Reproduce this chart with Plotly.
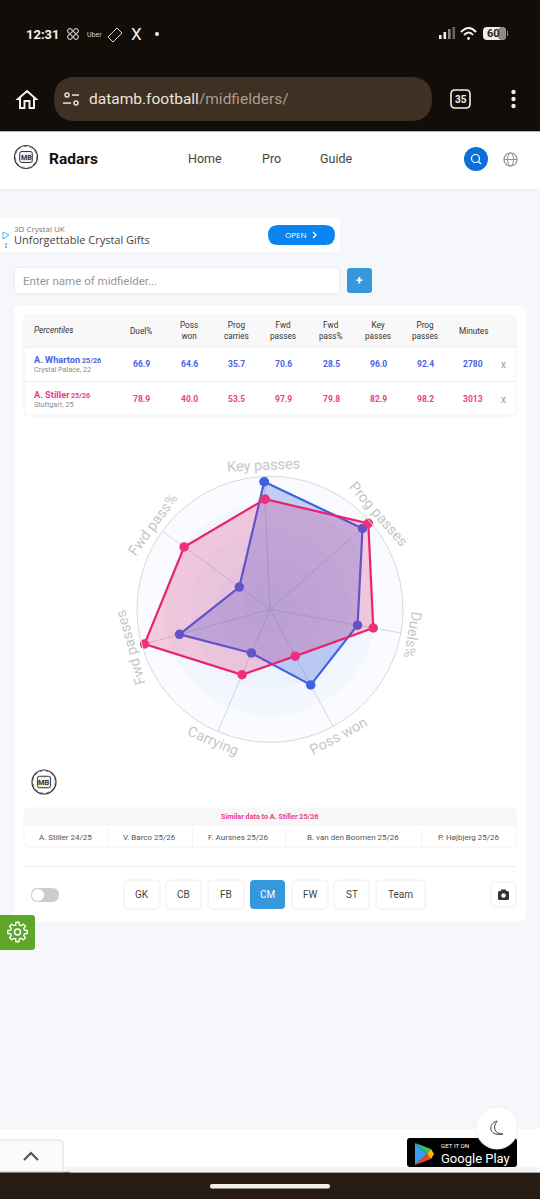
import math
import plotly.graph_objects as go

W, H = 540, 1199

# Radar data (percentiles), clockwise from the top spoke
axis_labels = ["Key passes", "Prog passes", "Duels%", "Poss won", "Carrying", "Fwd passes", "Fwd pass%"]
wharton_vals = [96.0, 92.4, 66.9, 64.6, 35.7, 70.6, 28.5]
stiller_vals = [82.9, 98.2, 78.9, 40.0, 53.5, 97.9, 79.8]
ring_levels = [100, 80, 60, 40, 20]

# Table
table_head = ["Duel%", "Poss<br>won", "Prog<br>carries", "Fwd<br>passes", "Fwd<br>pass%", "Key<br>passes", "Prog<br>passes", "Minutes"]
table_wharton = ["66.9", "64.6", "35.7", "70.6", "28.5", "96.0", "92.4", "2780"]
table_stiller = ["78.9", "40.0", "53.5", "97.9", "79.8", "82.9", "98.2", "3013"]
table_cols = [141, 189, 236, 283, 331, 378, 425, 473]

similar_names = ["A. Stiller 24/25", "V. Barco 25/26", "F. Aursnes 25/26", "B. van den Boomen 25/26", "P. Højbjerg 25/26"]
similar_cols = [65.5, 149, 238, 353, 469]
pos_buttons = ["GK", "CB", "FB", "CM", "FW", "ST", "Team"]
pos_edges = [(124, 160), (166, 201), (208, 244), (250, 285), (292, 328), (334, 369), (376, 425)]

BLUE = "#3f62e3"
PINK = "#e9236f"
BLUE_TXT = "#4a63e0"
PINK_TXT = "#e83e8c"
BG = "#f5f7fa"
DARK = "#120d09"

# Centre et rayon du radar, en pixels de page
CX, CY, R = 270, 609.3, 133
ROT = -2.6


def X(x):
    return x / W


def Y(y):
    return 1 - y / H


shapes = []
annots = []


def rrect(x0, y0, x1, y1, r, fill, line=None, lw=1):
    p = (f"M {X(x0 + r)} {Y(y0)} L {X(x1 - r)} {Y(y0)} Q {X(x1)} {Y(y0)} {X(x1)} {Y(y0 + r)} "
         f"L {X(x1)} {Y(y1 - r)} Q {X(x1)} {Y(y1)} {X(x1 - r)} {Y(y1)} "
         f"L {X(x0 + r)} {Y(y1)} Q {X(x0)} {Y(y1)} {X(x0)} {Y(y1 - r)} "
         f"L {X(x0)} {Y(y0 + r)} Q {X(x0)} {Y(y0)} {X(x0 + r)} {Y(y0)} Z")
    shapes.append(dict(type="path", path=p, xref="paper", yref="paper", layer="below",
                       fillcolor=fill, line=dict(color=line or "rgba(0,0,0,0)", width=lw if line else 0)))


def rect(x0, y0, x1, y1, fill):
    shapes.append(dict(type="rect", xref="paper", yref="paper", layer="below", x0=X(x0), x1=X(x1),
                       y0=Y(y1), y1=Y(y0), fillcolor=fill, line=dict(width=0)))


def circle(cx, cy, r, fill="rgba(0,0,0,0)", line=None, lw=1, dash=None):
    shapes.append(dict(type="circle", xref="paper", yref="paper", layer="below", x0=X(cx - r), x1=X(cx + r),
                       y0=Y(cy + r), y1=Y(cy - r), fillcolor=fill,
                       line=dict(color=line or "rgba(0,0,0,0)", width=lw if line else 0, dash=dash)))


def poly(points, fill="rgba(0,0,0,0)", line=None, lw=1, close=True):
    p = "M " + " L ".join(f"{X(a)} {Y(b)}" for a, b in points) + (" Z" if close else "")
    shapes.append(dict(type="path", path=p, xref="paper", yref="paper", layer="below", fillcolor=fill,
                       line=dict(color=line or "rgba(0,0,0,0)", width=lw if line else 0)))


def curve(p, line, lw=1.5, fill="rgba(0,0,0,0)"):
    # p = suite de commandes avec coordonnées en pixels
    out = []
    for tok in p:
        if isinstance(tok, str):
            out.append(tok)
        else:
            out.append(f"{X(tok[0])} {Y(tok[1])}")
    shapes.append(dict(type="path", path=" ".join(out), xref="paper", yref="paper", layer="below",
                       fillcolor=fill, line=dict(color=line, width=lw)))


def txt(x, y, s, size, color, anchor="center", angle=0, family="Roboto"):
    annots.append(dict(x=X(x), y=Y(y), xref="paper", yref="paper", text=s, showarrow=False, xanchor=anchor,
                       yanchor="middle", textangle=angle, borderpad=0, borderwidth=0,
                       font=dict(size=size, color=color, family=family)))


def logo(cx, cy, r):
    circle(cx, cy, r, fill="white", line="#333333", lw=1.2)
    circle(cx, cy, r * 0.93, line="#777777", lw=1, dash="dot")
    rrect(cx - r * 0.55, cy - r * 0.48, cx + r * 0.55, cy + r * 0.48, 2, "#eeeeee", "#333333", 1)
    txt(cx, cy, "<b>MB</b>", r * 0.62, "#333333")


def gear(cx, cy):
    pts = []
    for k in range(8):
        a = k * 45
        for da, rad in [(-15, 7.2), (-9, 9.8), (9, 9.8), (15, 7.2)]:
            t = math.radians(a + da)
            pts.append((cx + rad * math.cos(t), cy + rad * math.sin(t)))
    poly(pts, line="white", lw=1.4)
    circle(cx, cy, 3, line="white", lw=1.4)


# --- Barres du téléphone / navigateur ---
rect(0, 0, W, 131, DARK)
rect(0, 131, W, 132, "#bdb7ad")
txt(42.5, 34, "<b>12:31</b>", 13, "#f5f0ea")
for dx, dy in [(-3, -3), (3, -3), (-3, 3), (3, 3)]:
    circle(73 + dx, 34 + dy, 2.4, line="#eeeeee", lw=1)
txt(94, 34.5, "Uber", 7, "#d8d8d8")
poly([(108, 37), (117, 28), (122, 33), (113, 42)], line="#dddddd", lw=1)
txt(136, 34, "X", 17, "#f5f0ea")
circle(157, 34, 2, fill="#f5f0ea")
for bx, bh, col in [(439, 4, "#eeeeee"), (443.5, 7, "#eeeeee"), (448, 10, "#888888"), (452.5, 12, "#666666")]:
    rect(bx, 39 - bh, bx + 2.6, 39, col)
curve(["M", (461, 32), "Q", (469, 24), (476, 32)], "#f5f0ea", 2)
curve(["M", (464, 35), "Q", (469, 30), (473, 35)], "#f5f0ea", 2)
circle(468.5, 38.5, 1.4, fill="#f5f0ea")
rrect(483, 27, 506, 40, 4, "#f0ece6")
rrect(498, 27, 506, 40, 4, "#8a8a8a")
rect(507, 31, 508, 36, "#888888")
txt(493.5, 33.5, "<b>60</b>", 11, "#222222")

poly([(18, 99), (27, 91), (36, 99), (34, 99), (34, 108), (29.5, 108), (29.5, 101), (24.5, 101), (24.5, 108), (20, 108), (20, 99)],
     line="#f5f0ea", lw=2)
rrect(54, 77, 432, 121, 22, "#3e3022")
circle(67, 95, 2, line="#e8e0d8", lw=1.5)
rect(72, 94.3, 79, 95.8, "#e8e0d8")
circle(76, 103, 2, line="#e8e0d8", lw=1.5)
rect(63, 102.3, 71, 103.8, "#e8e0d8")
txt(89, 99, "<span style='color:#ece4da'>datamb.football</span>/midfielders/", 15.5, "#a89e90", anchor="left")
rrect(451, 90, 470, 108, 4, "rgba(0,0,0,0)", "#f5f0ea", 1.6)
txt(460.5, 99.5, "<b>35</b>", 10, "#f5f0ea")
for dy in [92, 99, 106]:
    circle(513.5, dy, 2.2, fill="#f0ebe4")

rect(0, 1172.5, W, 1199, "#261c14")
rect(0, 1171.5, W, 1172.5, "#c8c4be")
rrect(210, 1184, 330, 1188.5, 2, "#f2eee8")

# --- En-tête du site ---
rect(0, 132, W, 189, "white")
rect(0, 189, W, 191, "#eff1f4")
logo(26, 157, 11.5)
txt(49, 159, "<b>Radars</b>", 15.5, "#111111", anchor="left")
for label, lx in [("Home", 205), ("Pro", 271), ("Guide", 336)]:
    txt(lx, 158, label, 12.5, "#444444")
circle(476, 159, 12, fill="#0a70d6")
circle(475.5, 158.5, 4, line="white", lw=1.2)
poly([(478.5, 161.5), (481, 164)], line="white", lw=1.2, close=False)
circle(510.5, 159.5, 6.5, line="#8f8f8f", lw=1.2)
shapes.append(dict(type="circle", xref="paper", yref="paper", layer="below", x0=X(507.5), x1=X(513.5),
                   y0=Y(166), y1=Y(153), line=dict(color="#8f8f8f", width=1)))
rect(504, 159, 517, 160, "#8f8f8f")

# --- Publicité et recherche ---
rect(0, 218, 340, 252, "white")
txt(14, 228.5, "3D Crystal UK", 8, "#777777", anchor="left", family="Open Sans")
txt(14, 240, "Unforgettable Crystal Gifts", 11, "#444444", anchor="left", family="Open Sans")
rrect(268, 225, 335, 245, 10, "#0a84f0")
txt(296, 235, "OPEN", 8, "white", family="Open Sans")
poly([(313, 232), (316, 235), (313, 238)], line="white", lw=1.4, close=False)
poly([(3, 232), (9, 235), (3, 239)], line="#4db6e8", lw=1)
circle(6, 244, 0.9, fill="#2f9fd8")
circle(6, 247, 0.9, fill="#2f9fd8")
rrect(14, 267, 340, 294, 4, "white", "#e4e6e9", 1)
txt(23, 280.5, "Enter name of midfielder...", 11.5, "#999999", anchor="left")
rrect(347, 268, 372, 293, 3, "#3498db")
txt(359.5, 280.5, "<b>+</b>", 12, "white")

# --- Carte principale ---
rrect(14, 305, 526, 922, 7, "white")
rrect(24, 315, 516, 416, 5, "white", "#f1f1f1", 1)
rect(24, 316, 516, 346.5, "#f8f8f8")
rect(24, 346.5, 516, 347.5, "#e9e9e9")
rect(24, 381, 516, 382, "#ececec")
txt(34, 330, "<i>Percentiles</i>", 8.2, "#333333", anchor="left")
for cx, head, wv, sv in zip(table_cols, table_head, table_wharton, table_stiller):
    txt(cx, 330.5, head, 8.2, "#333333")
    txt(cx, 364.5, f"<b>{wv}</b>", 8.5, BLUE_TXT)
    txt(cx, 399.5, f"<b>{sv}</b>", 8.5, PINK_TXT)
txt(34, 359.5, "<b>A. Wharton</b>", 9.2, BLUE_TXT, anchor="left")
txt(82, 360, "<b>25/26</b>", 7.2, BLUE_TXT, anchor="left")
txt(34, 369, "Crystal Palace, 22", 7.2, "#8c8c8c", anchor="left")
txt(34, 394.5, "<b>A. Stiller</b>", 9.2, PINK_TXT, anchor="left")
txt(71, 395, "<b>25/26</b>", 7.2, PINK_TXT, anchor="left")
txt(34, 404, "Stuttgart, 25", 7.2, "#8c8c8c", anchor="left")
txt(503, 364.5, "x", 10, "#999999")
txt(503, 400, "x", 10, "#999999")

# --- Bas de carte ---
logo(44, 782, 12)
rrect(24, 808, 516, 847, 4, "white", "#f3f3f3", 1)
rect(24, 809, 516, 826, "#f7f7f7")
txt(270, 816, "<b>Similar data to A. Stiller 25/26</b>", 7.2, PINK_TXT)
for nm, nx in zip(similar_names, similar_cols):
    txt(nx, 837, nm, 8, "#555555")
for sx in [108, 192, 285, 421]:
    rect(sx, 828, sx + 0.8, 847, "#f2f2f2")
rect(24, 866, 516, 867, "#eeeeee")
rrect(31, 888, 59, 902, 7, "#cccccc")
circle(38, 895, 6, fill="white")
for label, (e0, e1) in zip(pos_buttons, pos_edges):
    on = label == "CM"
    rrect(e0, 880, e1, 909, 4, "#3498db" if on else "white", None if on else "#eeeeee", 1)
    txt((e0 + e1) / 2, 894.5, label, 10, "white" if on else "#444444")
rrect(491, 882, 516, 907, 4, "white", "#eeeeee", 1)
rrect(498, 891, 509, 900, 1.5, "#333333")
rect(501, 889.5, 506, 892, "#333333")
circle(503.5, 895.5, 2.2, fill="white")
rrect(-6, 915, 35, 950, 3, "#5da62a")
gear(17.5, 932)

# --- Pied de page ---
rect(0, 1129, W, 1171.5, "white")
rect(65, 1167, W, 1171.5, "#f4f4f4")
rrect(-6, 1140, 63, 1190, 4, "#fbfbfb", "#dddddd", 1)
rect(0, 1171.5, 70, 1172.5, "#c8c4be")
rect(0, 1172.5, 70, 1199, "#261c14")
poly([(24, 1160), (31, 1153), (38, 1160)], line="#555555", lw=2.2, close=False)
rrect(407, 1138, 517, 1167, 3, "black")
poly([(415, 1143), (427, 1154), (415, 1165)], fill="#3b9cef")
poly([(415, 1143), (427, 1154), (431, 1149)], fill="#33c26a")
poly([(415, 1165), (427, 1154), (431, 1159)], fill="#ea4335")
poly([(427, 1154), (431, 1149), (434, 1154), (431, 1159)], fill="#fbbc04")
txt(441, 1146, "GET IT ON", 6.2, "white", anchor="left")
txt(441, 1158, "Google Play", 13, "white", anchor="left")
circle(497, 1128, 21, fill="white", line="#f0f0f0", lw=1)
curve(["M", (497, 1121), "C", (487, 1124), (489, 1137), (503, 1134), "C", (495, 1134), (492, 1128), (497, 1121), "Z"], "#444444", 1)

# --- Radar ---
fig = go.Figure()
for level in ring_levels:
    fig.add_trace(go.Barpolar(r=[level], theta=[axis_labels[0]], width=[7], base=0,
                              marker=dict(color="rgba(90,160,230,0.04)", line=dict(width=0)),
                              hoverinfo="skip", showlegend=False))

fig.add_trace(go.Scatterpolar(r=wharton_vals + wharton_vals[:1], theta=axis_labels + axis_labels[:1],
                              mode="lines+markers", fill="toself", fillcolor="rgba(65,105,225,0.30)",
                              line=dict(color=BLUE, width=2.2), marker=dict(color=BLUE, size=9.5),
                              name="A. Wharton 25/26", showlegend=False))
fig.add_trace(go.Scatterpolar(r=stiller_vals + stiller_vals[:1], theta=axis_labels + axis_labels[:1],
                              mode="lines+markers", fill="toself", fillcolor="rgba(225,30,110,0.22)",
                              line=dict(color=PINK, width=2.2), marker=dict(color="#f0307f", size=9.5),
                              name="A. Stiller 25/26", showlegend=False))

# Libellés courbés autour du cercle : un angle par axe, lisibles en bas
for i, lab in enumerate(axis_labels):
    a = ROT + i * 360 / len(axis_labels)
    lx = CX + 144 * math.sin(math.radians(a))
    ly = CY - 144 * math.cos(math.radians(a))
    if 120 < a < 240:
        ang = a - 180
    elif a > 180:
        ang = a - 360
    else:
        ang = a
    txt(lx, ly, lab, 14.5, "#c6c6c6", angle=ang)

fig.update_layout(
    width=W, height=H,
    margin=dict(l=0, r=0, t=0, b=0),
    paper_bgcolor=BG,
    font=dict(family="Roboto"),
    showlegend=False,
    shapes=shapes,
    annotations=annots,
    polar=dict(
        domain=dict(x=[X(CX - R), X(CX + R)], y=[Y(CY + R), Y(CY - R)]),
        bgcolor="rgba(0,0,0,0)",
        barmode="overlay",
        radialaxis=dict(range=[0, 100], visible=False),
        angularaxis=dict(type="category", categoryorder="array", categoryarray=axis_labels,
                         direction="clockwise", rotation=90 - ROT,
                         showticklabels=False, ticks="",
                         gridcolor="#d9dbde", gridwidth=1, linecolor="#d6d8db", linewidth=1),
    ),
)

fig.write_html("out.html", config=dict(displayModeBar=False),
               post_script="document.body.style.margin='0';")
